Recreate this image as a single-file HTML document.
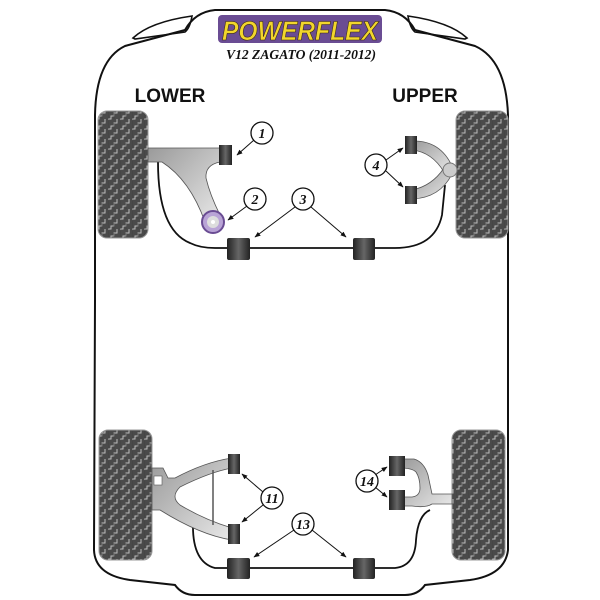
<!DOCTYPE html>
<html><head><meta charset="utf-8"><style>
html,body{margin:0;padding:0;background:#fff;}
svg{display:block;}
</style></head><body>
<svg width="600" height="600" viewBox="0 0 600 600" xmlns="http://www.w3.org/2000/svg">
<defs>
<pattern id="tread" width="12" height="10" patternUnits="userSpaceOnUse">
<rect width="12" height="10" fill="#4a4a4a"/>
<path d="M0 9 H3 V6 H6 V3 H9 V0 M9 9 V10 M0 3 H0" fill="none" stroke="#bdbdbd" stroke-width="1"/>
<path d="M0 1 V9 M6 3 V9" fill="none" stroke="#3a3a3a" stroke-width="0.5"/>
</pattern>
<linearGradient id="bush" x1="0" x2="1" y1="0" y2="0">
<stop offset="0" stop-color="#222"/><stop offset="0.5" stop-color="#666"/><stop offset="1" stop-color="#222"/>
</linearGradient>
<linearGradient id="arm" x1="0" x2="1" y1="0" y2="1">
<stop offset="0" stop-color="#9a9a9a"/><stop offset="1" stop-color="#e8e8e8"/>
</linearGradient>
<marker id="ah" viewBox="0 0 10 10" refX="9" refY="5" markerWidth="6" markerHeight="6" orient="auto">
<path d="M0 1 L10 5 L0 9 z" fill="#111"/>
</marker>
</defs>

<path d="M95 300 L95 115 Q96 60 125 46 L185 30 Q195 12 215 10 L385 10 Q405 12 415 30 L475 46 Q506 60 508 115 L508 550 Q505 575 470 580 L425 585 Q418 595 405 595 L195 595 Q182 595 175 585 L130 580 Q95 575 94 550 Z" fill="none" stroke="#111" stroke-width="2"/>
<path d="M133 38 Q150 22 192 16 Q190 28 185 32 L135 39 Z" fill="none" stroke="#111" stroke-width="1.6"/>
<path d="M467 38 Q450 22 408 16 Q410 28 415 32 L465 39 Z" fill="none" stroke="#111" stroke-width="1.6"/>

<rect x="218" y="15" width="164" height="28" rx="4" fill="#6a4c93"/>
<text x="300" y="40" text-anchor="middle" font-family="Liberation Sans, sans-serif" font-weight="bold" font-style="italic" font-size="27" fill="#f2d62c" stroke="#3a2a10" stroke-width="0.6" textLength="156" lengthAdjust="spacingAndGlyphs">POWERFLEX</text>
<text x="301" y="59" text-anchor="middle" font-family="Liberation Serif, serif" font-weight="bold" font-style="italic" font-size="14" fill="#111" textLength="150" lengthAdjust="spacingAndGlyphs">V12 ZAGATO (2011-2012)</text>

<text x="170" y="102" text-anchor="middle" font-family="Liberation Sans, sans-serif" font-weight="bold" font-size="19" fill="#111">LOWER</text>
<text x="425" y="102" text-anchor="middle" font-family="Liberation Sans, sans-serif" font-weight="bold" font-size="19" fill="#111">UPPER</text>

<rect x="98" y="111" width="50" height="127" rx="9" fill="url(#tread)" stroke="#999" stroke-width="1"/>
<rect x="456" y="111" width="52" height="127" rx="9" fill="url(#tread)" stroke="#999" stroke-width="1"/>
<rect x="99" y="430" width="53" height="130" rx="9" fill="url(#tread)" stroke="#999" stroke-width="1"/>
<rect x="452" y="430" width="53" height="130" rx="9" fill="url(#tread)" stroke="#999" stroke-width="1"/>

<path d="M158 162 Q158 230 190 243 Q200 248 215 248 L395 248 Q435 248 442 215 L445 185" fill="none" stroke="#111" stroke-width="1.8"/>
<path d="M148 148 L220 148 L220 162 Q205 165 206 178 Q210 195 220 215 L205 222 Q190 180 162 162 L148 162 Z" fill="url(#arm)" stroke="#555" stroke-width="0.8"/>
<rect x="219" y="145" width="13" height="20" fill="url(#bush)"/>
<circle cx="213" cy="222" r="11" fill="#b9a4d6" stroke="#6a4c93" stroke-width="2"/>
<circle cx="213" cy="222" r="6" fill="#ddd"/><circle cx="213" cy="222" r="2" fill="#fff"/>
<rect x="227" y="238" width="23" height="22" rx="2" fill="url(#bush)"/>
<rect x="353" y="238" width="22" height="22" rx="2" fill="url(#bush)"/>
<path d="M412 141 Q440 140 452 166 L444 172 Q432 152 412 150 Z" fill="url(#arm)" stroke="#555" stroke-width="0.8"/>
<path d="M412 190 Q432 186 444 168 L452 174 Q440 198 412 199 Z" fill="url(#arm)" stroke="#555" stroke-width="0.8"/>
<rect x="405" y="136" width="12" height="18" fill="url(#bush)"/>
<rect x="405" y="186" width="12" height="18" fill="url(#bush)"/>
<circle cx="450" cy="170" r="7" fill="#ccc" stroke="#777"/>

<path d="M193 523 Q192 562 215 568 L395 568 Q415 566 416 540 Q418 515 430 510" fill="none" stroke="#111" stroke-width="1.8"/>
<path d="M152 468 L163 468 L168 478 L175 478 Q205 462 232 458 L232 468 Q210 472 180 487 Q170 497 180 505 Q205 520 232 528 L232 540 Q200 535 160 510 L152 510 Z" fill="url(#arm)" stroke="#555" stroke-width="0.8"/>
<path d="M213 470 L213 525" stroke="#555" stroke-width="1.5"/>
<rect x="154" y="476" width="8" height="9" fill="#fff" stroke="#555" stroke-width="0.6"/>
<rect x="228" y="454" width="12" height="20" fill="url(#bush)"/>
<rect x="228" y="524" width="12" height="20" fill="url(#bush)"/>
<path d="M400 459 L414 459 Q424 462 428 475 L432 494 L452 494 L452 504 L432 504 Q426 508 412 506 L400 506 L400 497 L412 497 Q420 496 420 488 Q420 478 416 472 Q412 468 400 468 Z" fill="url(#arm)" stroke="#555" stroke-width="0.8"/>
<rect x="389" y="456" width="16" height="20" fill="url(#bush)"/>
<rect x="389" y="490" width="16" height="20" fill="url(#bush)"/>
<rect x="227" y="558" width="23" height="21" rx="2" fill="url(#bush)"/>
<rect x="353" y="558" width="22" height="21" rx="2" fill="url(#bush)"/>

<g stroke="#111" stroke-width="1" fill="none" marker-end="url(#ah)">
<line x1="254" y1="140" x2="237" y2="155"/>
<line x1="247" y1="206" x2="228" y2="220"/>
<line x1="295" y1="207" x2="255" y2="237"/>
<line x1="311" y1="207" x2="346" y2="237"/>
<line x1="386" y1="160" x2="403" y2="148"/>
<line x1="386" y1="171" x2="403" y2="187"/>
<line x1="263" y1="492" x2="242" y2="474"/>
<line x1="263" y1="505" x2="242" y2="522"/>
<line x1="294" y1="530" x2="254" y2="557"/>
<line x1="312" y1="530" x2="346" y2="557"/>
<line x1="375" y1="475" x2="387" y2="467"/>
<line x1="375" y1="487" x2="387" y2="497"/>
</g>
<g fill="#fff" stroke="#111" stroke-width="1.3">
<circle cx="262" cy="133" r="11"/><circle cx="255" cy="199" r="11"/><circle cx="303" cy="199" r="11"/>
<circle cx="376" cy="165" r="11"/><circle cx="272" cy="498" r="11"/><circle cx="303" cy="524" r="11"/><circle cx="367" cy="481" r="11"/>
</g>
<g font-family="Liberation Serif, serif" font-weight="bold" font-style="italic" font-size="14" text-anchor="middle" fill="#111">
<text x="262" y="138">1</text><text x="255" y="204">2</text><text x="303" y="204">3</text><text x="376" y="170">4</text>
<text x="272" y="503">11</text><text x="303" y="529">13</text><text x="367" y="486">14</text>
</g>
</svg>
</body></html>
